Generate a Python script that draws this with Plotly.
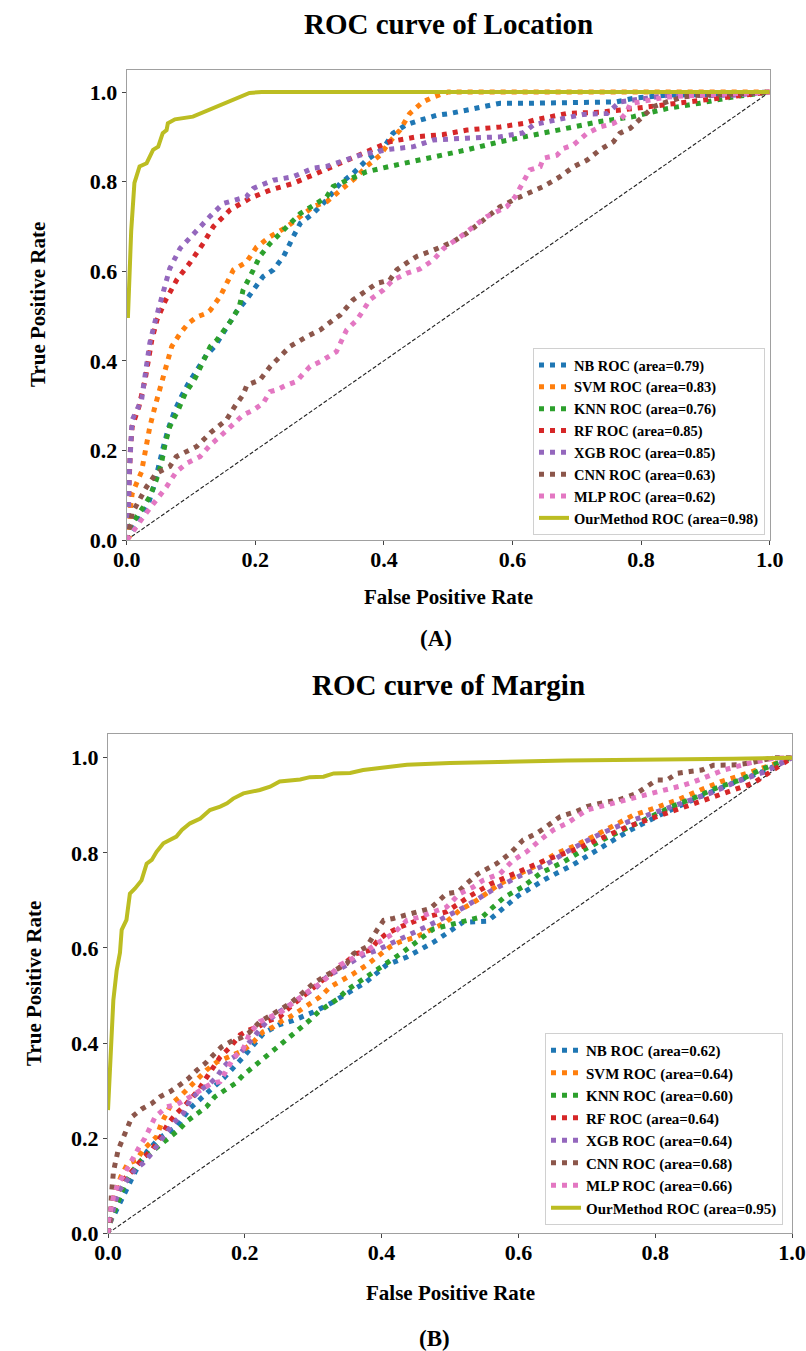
import plotly.graph_objects as go

# ---------------- DATA: ROC curve of Location ----------------
loc_nb_x = [0, .005, .019, .034, .042, .049, .057, .065, .075, .085, .096, .109, .124, .137, .15, .163, .171, .186, .212, .228, .244, .259, .27, .29, .311, .332, .352, .373, .399, .414, .435, .456, .482, .503, .529, .581, .633, .684, .736, .762, .788, .84, .943, 1]
loc_nb_y = [0, .015, .045, .082, .119, .164, .208, .25, .29, .32, .35, .379, .413, .432, .461, .491, .51, .536, .588, .603, .633, .677, .707, .729, .759, .796, .818, .848, .874, .908, .927, .937, .948, .952, .96, .975, .975, .977, .977, .978, .986, .993, .995, 1]

loc_svm_x = [0, .004, .006, .0085, .023, .0285, .036, .044, .052, .06, .07, .083, .096, .109, .124, .13, .145, .166, .186, .202, .223, .249, .27, .29, .311, .342, .358, .373, .394, .409, .425, .44, .461, .477, .492, .5, 1]
loc_svm_y = [0, .007, .074, .104, .152, .2, .253, .298, .342, .387, .432, .461, .484, .498, .506, .513, .543, .603, .62, .654, .677, .699, .722, .744, .755, .792, .811, .834, .859, .889, .915, .952, .978, .989, .998, 1, 1]

loc_knn_x = [0, .005, .026, .036, .046, .054, .06, .067, .08, .091, .106, .119, .13, .14, .153, .163, .175, .181, .197, .207, .223, .238, .254, .27, .295, .311, .321, .342, .373, .409, .446, .482, .529, .581, .633, .684, .736, .788, .84, .891, .943, 1]
loc_knn_y = [0, .03, .074, .097, .134, .171, .216, .253, .29, .327, .36, .402, .432, .446, .469, .491, .52, .558, .603, .633, .662, .684, .707, .729, .751, .766, .789, .803, .822, .834, .845, .856, .871, .889, .904, .919, .934, .945, .963, .975, .989, 1]

loc_rf_x = [0, .0025, .004, .006, .0085, .019, .0285, .034, .039, .047, .06, .078, .098, .119, .135, .161, .192, .223, .259, .29, .321, .352, .378, .409, .451, .492, .529, .581, .617, .633, .684, .736, .788, .83, .881, .933, .969, 1]
loc_rf_y = [0, .089, .164, .208, .253, .298, .357, .402, .446, .491, .534, .581, .618, .662, .7, .737, .763, .781, .796, .815, .834, .852, .867, .889, .9, .905, .915, .922, .93, .937, .952, .955, .963, .97, .978, .989, .993, 1]

loc_xgb_x = [0, .0025, .004, .006, .0085, .023, .031, .036, .044, .053, .067, .083, .104, .13, .15, .186, .197, .228, .259, .29, .311, .342, .363, .389, .409, .446, .477, .529, .581, .617, .633, .659, .71, .747, .767, .788, .84, .891, .943, 1]
loc_xgb_y = [0, .037, .149, .223, .268, .312, .387, .44, .487, .536, .606, .651, .684, .723, .751, .766, .785, .803, .811, .83, .834, .848, .859, .867, .872, .878, .893, .897, .9, .909, .927, .935, .95, .952, .978, .982, .992, .992, .993, 1]

loc_cnn_x = [0, .004, .0085, .031, .046, .067, .077, .093, .109, .13, .145, .155, .168, .181, .187, .207, .223, .244, .254, .28, .301, .321, .332, .352, .373, .389, .409, .42, .435, .451, .477, .508, .529, .555, .581, .607, .633, .648, .674, .695, .716, .736, .757, .767, .783, .804, .819, .84, .866, .891, .943, 1]
loc_cnn_y = [0, .022, .06, .119, .149, .164, .186, .198, .209, .239, .257, .268, .298, .324, .346, .357, .387, .417, .432, .454, .469, .491, .502, .536, .558, .573, .58, .603, .618, .633, .647, .666, .685, .714, .744, .763, .778, .789, .811, .833, .848, .871, .889, .908, .919, .949, .967, .978, .989, .993, .995, 1]

loc_mlp_x = [0, .004, .026, .046, .062, .077, .093, .114, .13, .145, .166, .181, .197, .212, .223, .233, .249, .264, .275, .285, .301, .316, .326, .342, .358, .368, .378, .399, .414, .435, .456, .477, .493, .519, .545, .56, .576, .591, .604, .617, .627, .643, .648, .669, .679, .695, .716, .736, .757, .767, .778, .783, .809, .84, .891, 1]
loc_mlp_y = [0, .007, .052, .089, .119, .152, .171, .186, .212, .231, .261, .279, .29, .305, .331, .335, .346, .354, .372, .387, .398, .413, .42, .469, .491, .513, .536, .558, .58, .595, .605, .625, .651, .677, .707, .722, .733, .744, .766, .803, .826, .833, .852, .859, .874, .882, .908, .922, .93, .937, .955, .974, .982, .989, .993, 1]

loc_our_x = [0, .002, .007, .012, .02, .031, .041, .049, .056, .062, .064, .075, .103, .129, .16, .191, .21, 1]
loc_our_y = [.5, .5, .69, .797, .834, .841, .871, .878, .908, .915, .93, .939, .945, .96, .978, .998, 1, 1]

# ---------------- DATA: ROC curve of Margin ----------------
mar_nb_x = [0, .003, .01, .017, .025, .04, .057, .075, .1, .12, .144, .169, .198, .227, .249, .27, .3, .325, .354, .378, .407, .437, .476, .5, .519, .555, .577, .6, .64, .68, .72, .76, .812, .87, .919, .963, .987, 1]
mar_nb_y = [0, .028, .042, .063, .091, .13, .172, .2, .224, .263, .294, .326, .371, .42, .438, .447, .465, .483, .508, .529, .564, .581, .612, .636, .654, .656, .682, .71, .745, .775, .81, .845, .883, .921, .95, .974, .992, 1]

mar_svm_x = [0, .003, .012, .019, .029, .042, .051, .061, .071, .078, .086, .093, .105, .12, .13, .144, .159, .174, .183, .198, .213, .227, .242, .256, .266, .281, .295, .31, .325, .339, .359, .378, .393, .412, .427, .451, .476, .495, .514, .539, .573, .597, .627, .656, .68, .709, .739, .768, .797, .832, .866, .895, .934, .963, 1]
mar_svm_y = [0, .042, .091, .12, .147, .154, .175, .189, .203, .231, .252, .273, .287, .308, .322, .343, .36, .371, .375, .385, .403, .424, .434, .448, .455, .469, .483, .497, .518, .529, .546, .564, .581, .602, .613, .623, .641, .655, .679, .7, .735, .753, .774, .799, .813, .834, .858, .879, .893, .911, .932, .949, .967, .981, 1]

mar_knn_x = [0, .001, .025, .037, .049, .061, .074, .088, .103, .115, .13, .144, .156, .171, .186, .198, .213, .227, .239, .254, .269, .281, .295, .308, .322, .337, .349, .363, .378, .393, .407, .422, .432, .476, .524, .548, .563, .58, .607, .632, .666, .695, .727, .758, .793, .824, .856, .889, .924, .953, .973, 1]
mar_knn_y = [0, .014, .105, .133, .154, .168, .185, .2, .217, .235, .252, .266, .287, .301, .315, .333, .35, .368, .382, .399, .417, .431, .448, .466, .48, .494, .511, .525, .539, .553, .567, .585, .592, .64, .659, .666, .686, .707, .729, .757, .781, .806, .83, .851, .876, .897, .915, .936, .953, .974, .985, 1]

mar_rf_x = [0, .003, .008, .012, .022, .037, .051, .064, .076, .088, .1, .115, .132, .144, .164, .179, .193, .205, .22, .232, .251, .264, .281, .3, .317, .337, .363, .383, .393, .407, .427, .447, .466, .495, .53, .56, .6, .64, .68, .72, .76, .8, .84, .889, .944, 1]
mar_rf_y = [0, .035, .056, .077, .112, .133, .158, .175, .2, .231, .252, .273, .301, .329, .371, .392, .417, .427, .434, .445, .455, .473, .494, .518, .536, .557, .588, .595, .613, .63, .644, .655, .665, .676, .71, .735, .76, .785, .805, .83, .855, .875, .895, .918, .947, 1]

mar_xgb_x = [0, .005, .01, .017, .027, .039, .051, .064, .074, .086, .095, .11, .12, .135, .149, .159, .169, .181, .193, .205, .217, .232, .247, .261, .276, .291, .305, .32, .337, .354, .373, .393, .43, .48, .52, .56, .6, .64, .68, .72, .76, .8, .84, .88, .92, .96, 1]
mar_xgb_y = [0, .03, .065, .091, .112, .133, .147, .168, .189, .214, .231, .252, .28, .301, .315, .329, .35, .368, .378, .399, .42, .445, .462, .476, .49, .504, .518, .539, .553, .567, .585, .595, .62, .655, .685, .72, .75, .775, .81, .84, .865, .885, .905, .925, .95, .97, 1]

mar_cnn_x = [0, .003, .005, .008, .015, .025, .035, .05, .064, .076, .091, .105, .118, .13, .142, .154, .166, .183, .193, .205, .222, .234, .251, .266, .281, .3, .315, .332, .349, .359, .378, .393, .403, .417, .437, .451, .471, .495, .512, .524, .541, .568, .588, .607, .627, .641, .661, .683, .7, .719, .746, .773, .788, .802, .817, .832, .851, .868, .885, .919, .939, .973, 1]
mar_cnn_y = [0, .021, .081, .13, .176, .214, .245, .262, .273, .287, .298, .312, .326, .343, .357, .375, .392, .406, .41, .42, .445, .455, .469, .483, .501, .525, .539, .553, .567, .588, .602, .637, .658, .662, .669, .676, .683, .714, .718, .735, .756, .777, .799, .827, .841, .855, .876, .886, .897, .904, .911, .925, .939, .953, .953, .967, .971, .974, .984, .985, .989, 1, 1]

mar_mlp_x = [0, .001, .008, .015, .022, .03, .037, .045, .054, .069, .086, .1, .12, .135, .151, .164, .174, .183, .198, .207, .222, .237, .254, .269, .281, .295, .31, .325, .339, .359, .376, .397, .417, .437, .456, .476, .495, .514, .534, .548, .573, .592, .612, .632, .651, .671, .685, .7, .719, .739, .758, .788, .817, .841, .856, .875, .9, .939, .973, 1]
mar_mlp_y = [0, .028, .077, .105, .12, .141, .162, .18, .2, .245, .266, .27, .287, .301, .315, .319, .343, .368, .389, .42, .445, .455, .466, .483, .497, .511, .525, .543, .564, .578, .592, .613, .63, .658, .665, .676, .686, .714, .728, .742, .756, .784, .802, .827, .848, .862, .876, .89, .897, .904, .911, .921, .932, .942, .949, .96, .974, .989, .999, 1]

mar_our_x = [0, .003, .005, .0078, .0127, .0175, .02, .027, .032, .0395, .049, .0565, .064, .071, .081, .1, .108, .12, .135, .149, .164, .174, .183, .198, .222, .237, .251, .281, .295, .315, .33, .354, .373, .393, .437, .5, .671, .914, 1]
mar_our_y = [.259, .35, .42, .49, .553, .59, .638, .659, .714, .725, .742, .777, .785, .802, .82, .834, .848, .862, .872, .89, .897, .904, .914, .925, .932, .939, .95, .954, .959, .96, .967, .968, .974, .977, .985, .989, .994, .998, 1]

chance = [0, 1]

model_names = ["NB", "SVM", "KNN", "RF", "XGB", "CNN", "MLP", "OurMethod"]
loc_auc = ["0.79", "0.83", "0.76", "0.85", "0.85", "0.63", "0.62", "0.98"]
mar_auc = ["0.62", "0.64", "0.60", "0.64", "0.64", "0.68", "0.66", "0.95"]
colors = ["#1f77b4", "#ff7f0e", "#2ca02c", "#d62728", "#9467bd", "#8c564b", "#e377c2", "#bcbd22"]

ticks = [0, 0.2, 0.4, 0.6, 0.8, 1.0]
tick_text = ["0.0", "0.2", "0.4", "0.6", "0.8", "1.0"]

loc_curves = [(loc_nb_x, loc_nb_y), (loc_svm_x, loc_svm_y), (loc_knn_x, loc_knn_y), (loc_rf_x, loc_rf_y),
              (loc_xgb_x, loc_xgb_y), (loc_cnn_x, loc_cnn_y), (loc_mlp_x, loc_mlp_y), (loc_our_x, loc_our_y)]
mar_curves = [(mar_nb_x, mar_nb_y), (mar_svm_x, mar_svm_y), (mar_knn_x, mar_knn_y), (mar_rf_x, mar_rf_y),
              (mar_xgb_x, mar_xgb_y), (mar_cnn_x, mar_cnn_y), (mar_mlp_x, mar_mlp_y), (mar_our_x, mar_our_y)]

# ---------------- FIGURE ----------------
W, H = 806, 1351
FONT = "Liberation Serif"


def fx(px):
    return px / W


def fy(py):
    return 1 - py / H


fig = go.Figure()

for curves, aucs, xa, ya, leg in [(loc_curves, loc_auc, "x", "y", "legend"),
                                  (mar_curves, mar_auc, "x2", "y2", "legend2")]:
    fig.add_trace(go.Scatter(x=chance, y=chance, mode="lines", xaxis=xa, yaxis=ya,
                             line=dict(color="#222222", width=1.1, dash="4px,2px"),
                             showlegend=False, hoverinfo="skip"))
    for i, (cx, cy) in enumerate(curves):
        ours = model_names[i] == "OurMethod"
        fig.add_trace(go.Scatter(
            x=cx, y=cy, mode="lines", xaxis=xa, yaxis=ya, legend=leg,
            name=f"{model_names[i]} ROC (area={aucs[i]})",
            line=dict(color=colors[i], width=4 if ours else 5,
                      dash="solid" if ours else "5px,6px"),
        ))

axis_common = dict(range=[0, 1], tickvals=ticks, ticktext=tick_text, ticks="outside",
                   ticklen=4, tickwidth=1, tickcolor="#444", showline=True, linecolor="#a0a0a0",
                   linewidth=1.2, mirror=True, showgrid=False, zeroline=False, automargin=False,
                   tickfont=dict(family=FONT, size=22, color="black", weight="bold"))
yaxis_common = dict(axis_common)
yaxis_common["range"] = [0, 1.05]

# top subplot pixel box: x 126.7..769.7, y 69.6..540
# bottom subplot pixel box: x 108..792, y 733.9..1233.3
fig.update_layout(
    template="none",
    width=W, height=H, autosize=False,
    margin=dict(l=0, r=0, t=0, b=0, pad=0),
    paper_bgcolor="white", plot_bgcolor="white",
    font=dict(family=FONT, color="black"),
    xaxis=dict(axis_common, domain=[fx(126.7), fx(769.7)], anchor="y"),
    yaxis=dict(yaxis_common, domain=[fy(540), fy(69.6)], anchor="x"),
    xaxis2=dict(axis_common, domain=[fx(108), fx(792)], anchor="y2"),
    yaxis2=dict(yaxis_common, domain=[fy(1233.3), fy(733.9)], anchor="x2"),
    legend=dict(x=fx(765), y=fy(535), xanchor="right", yanchor="bottom",
                bgcolor="rgba(255,255,255,0.85)", bordercolor="#d0d0d0", borderwidth=1,
                font=dict(family=FONT, size=14.5, color="black", weight="bold"),
                tracegroupgap=0, itemwidth=30),
    legend2=dict(x=fx(783), y=fy(1225), xanchor="right", yanchor="bottom",
                 bgcolor="rgba(255,255,255,0.85)", bordercolor="#d0d0d0", borderwidth=1,
                 font=dict(family=FONT, size=15, color="black", weight="bold"),
                 tracegroupgap=0, itemwidth=30),
    showlegend=True,
)

# pull the x tick labels a little closer to the axis, as in the reference
try:
    fig.update_xaxes(ticklabelstandoff=-5)
except Exception:
    pass

ann_font = dict(family=FONT, color="black", weight="bold")
annotations = [
    dict(text="ROC curve of Location", x=fx(448), y=fy(24), font=dict(ann_font, size=29)),
    dict(text="False Positive Rate", x=fx(448), y=fy(597), font=dict(ann_font, size=21)),
    dict(text="True Positive Rate", x=fx(38), y=fy(305), textangle=-90, font=dict(ann_font, size=21)),
    dict(text="(A)", x=fx(436), y=fy(638), font=dict(ann_font, size=23)),
    dict(text="ROC curve of Margin", x=fx(448), y=fy(685), font=dict(ann_font, size=29)),
    dict(text="False Positive Rate", x=fx(450), y=fy(1293), font=dict(ann_font, size=21)),
    dict(text="True Positive Rate", x=fx(34), y=fy(984), textangle=-90, font=dict(ann_font, size=21)),
    dict(text="(B)", x=fx(434), y=fy(1338), font=dict(ann_font, size=23)),
]
for a in annotations:
    a.update(xref="paper", yref="paper", showarrow=False, xanchor="center", yanchor="middle")
fig.update_layout(annotations=annotations)

fig.write_html("out.html", config={"displayModeBar": False},
               post_script="document.body.style.margin='0';document.body.style.overflow='hidden';")
